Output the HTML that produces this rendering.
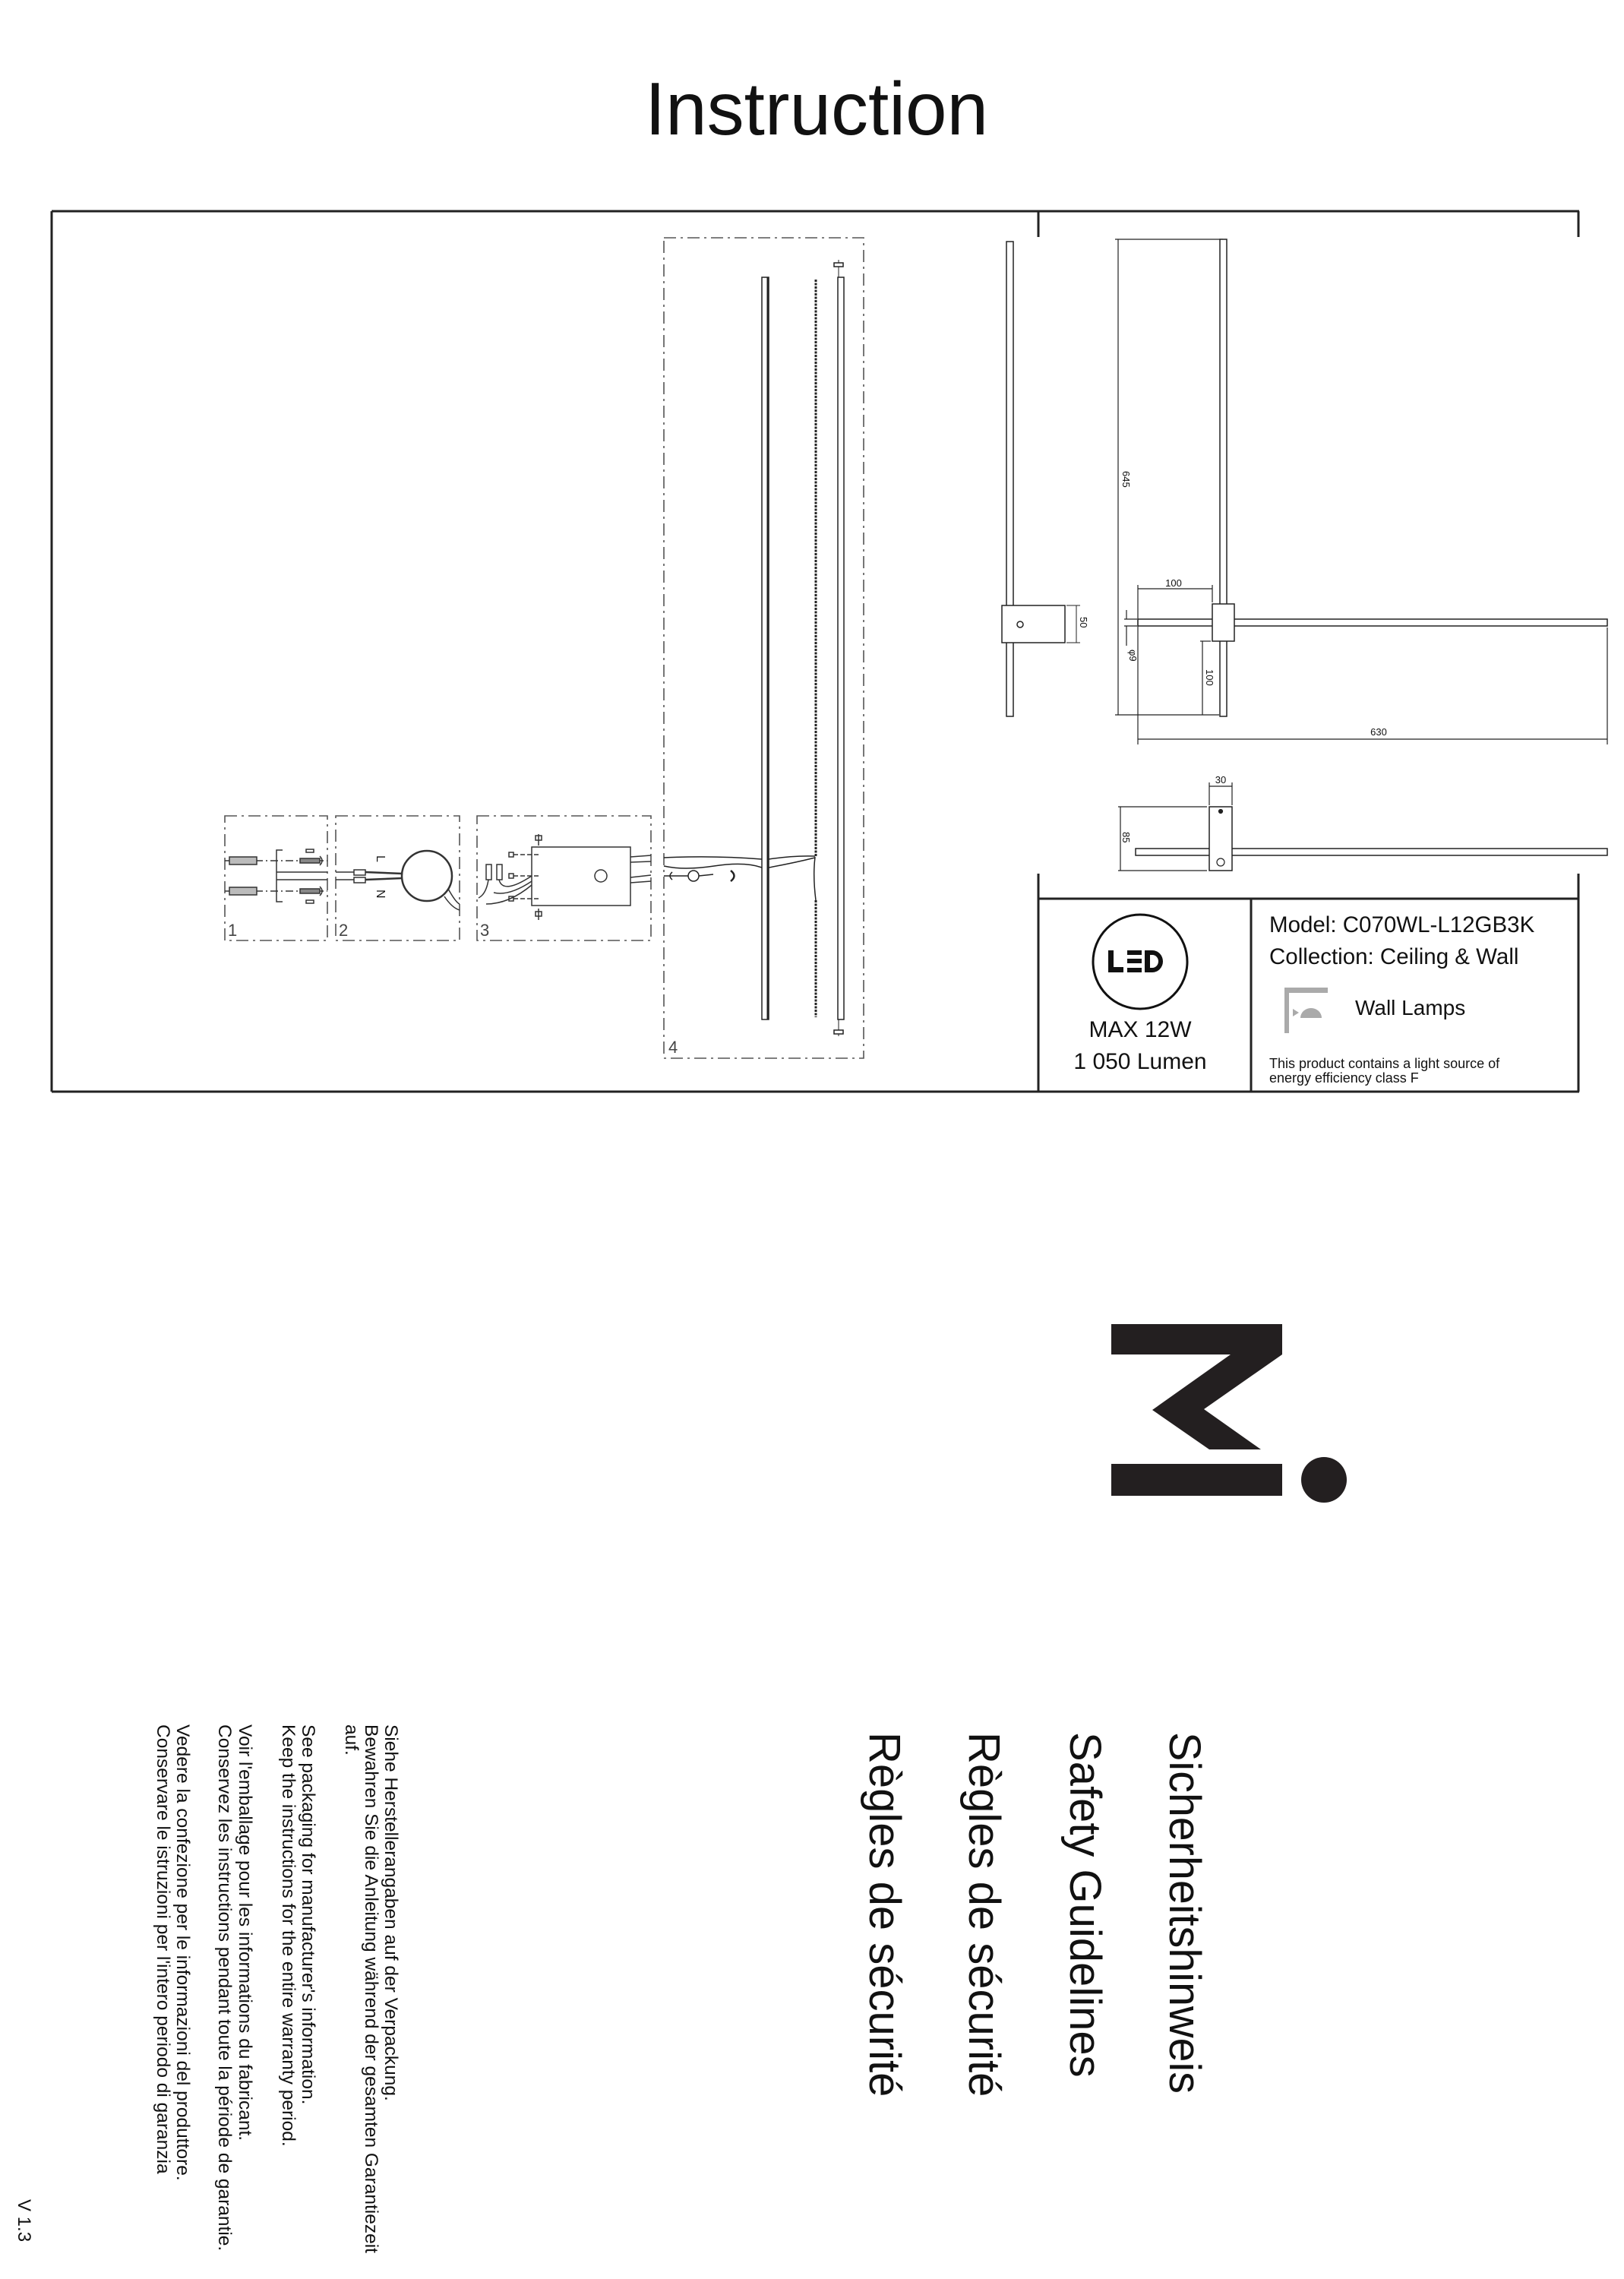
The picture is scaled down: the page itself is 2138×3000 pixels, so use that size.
<!DOCTYPE html>
<html><head><meta charset="utf-8"><style>
html,body{margin:0;padding:0;background:#fff;}
svg{display:block;}
text{font-family:"Liberation Sans",Arial,sans-serif;fill:#111;}
</style></head><body>
<svg width="2138" height="3000" viewBox="0 0 2138 3000" xmlns="http://www.w3.org/2000/svg">
<rect width="2138" height="3000" fill="#fff"/>
<text x="1075" y="177" font-size="98" text-anchor="middle">Instruction</text>

<g stroke="#222" stroke-width="3" fill="none">
<line x1="68" y1="278" x2="2079" y2="278"/>
<line x1="68" y1="278" x2="68" y2="1437"/>
<line x1="68" y1="1437" x2="2079" y2="1437"/>
<line x1="2078" y1="278" x2="2078" y2="312"/>
<line x1="2078" y1="1150" x2="2078" y2="1437"/>
<line x1="1367" y1="278" x2="1367" y2="312"/>
<line x1="1367" y1="1150" x2="1367" y2="1437"/>
<line x1="1367" y1="1183" x2="2078" y2="1183"/>
<line x1="1647" y1="1183" x2="1647" y2="1437"/>
</g>

<g stroke="#555" stroke-width="1.6" fill="none" stroke-dasharray="16 6 3 6">
<rect x="296" y="1074" width="135" height="164"/>
<rect x="442" y="1074" width="163" height="164"/>
<rect x="628" y="1074" width="229" height="164"/>
<rect x="874" y="313" width="263" height="1080"/>
</g>
<g font-size="22" fill="#444">
<text x="300" y="1232" style="fill:#444">1</text>
<text x="446" y="1232" style="fill:#444">2</text>
<text x="632" y="1232" style="fill:#444">3</text>
<text x="880" y="1386" style="fill:#444">4</text>
</g>

<g stroke="#333" stroke-width="1.5" fill="none">
<line x1="296" y1="1133" x2="431" y2="1133" stroke-dasharray="10 4 2 4"/>
<line x1="296" y1="1173" x2="431" y2="1173" stroke-dasharray="10 4 2 4"/>
<rect x="302" y="1128" width="36" height="10" fill="#bbb"/>
<rect x="302" y="1168" width="36" height="10" fill="#bbb"/>
<path d="M372 1119 H364 V1187 H372"/>
<line x1="364" y1="1148" x2="431" y2="1148"/><line x1="364" y1="1158" x2="431" y2="1158"/>
<rect x="395" y="1130" width="26" height="6" fill="#888"/>
<rect x="395" y="1170" width="26" height="6" fill="#888"/>
<path d="M421 1127 q6 6 0 12"/><path d="M421 1167 q6 6 0 12"/>
<rect x="403" y="1118" width="10" height="4"/><rect x="403" y="1185" width="10" height="4"/>
</g>
<g stroke="#333" stroke-width="1.5" fill="none">
<line x1="442" y1="1148" x2="466" y2="1148"/><line x1="442" y1="1158" x2="466" y2="1158"/>
<rect x="466" y="1145" width="15" height="7"/><rect x="466" y="1155" width="15" height="7"/>
<line x1="481" y1="1148" x2="530" y2="1150" stroke-width="2.5"/><line x1="481" y1="1158" x2="530" y2="1156" stroke-width="2.5"/>
<circle cx="562" cy="1153" r="33" stroke-width="2.5"/>
<path d="M590 1170 q10 18 15 20"/><path d="M585 1180 q10 15 20 18"/>
</g>
<text x="498" y="1140" font-size="16" transform="rotate(90 504 1132)">L</text>
<text x="498" y="1185" font-size="16" transform="rotate(90 504 1177)">N</text>
<g stroke="#333" stroke-width="1.5" fill="none">
<rect x="700" y="1115" width="130" height="77"/>
<circle cx="791" cy="1153" r="8"/>
<line x1="709" y1="1098" x2="709" y2="1113"/><rect x="705" y="1100" width="8" height="6"/>
<line x1="709" y1="1196" x2="709" y2="1211"/><rect x="705" y="1200" width="8" height="6"/>
<rect x="670" y="1122" width="6" height="6"/><rect x="670" y="1150" width="6" height="6"/><rect x="670" y="1180" width="6" height="6"/>
<line x1="676" y1="1125" x2="710" y2="1125" stroke-dasharray="6 3"/>
<line x1="676" y1="1153" x2="710" y2="1153" stroke-dasharray="6 3"/>
<line x1="676" y1="1183" x2="710" y2="1183" stroke-dasharray="6 3"/>
<rect x="640" y="1138" width="7" height="20"/><rect x="654" y="1138" width="7" height="20"/>
<path d="M630 1182 q10 -5 13 -24"/><path d="M657 1158 q5 20 43 -5"/><path d="M650 1175 q20 5 50 -15"/><path d="M640 1190 q30 0 60 -25"/>
<line x1="830" y1="1128" x2="857" y2="1126"/><line x1="830" y1="1135" x2="857" y2="1134"/>
<line x1="830" y1="1155" x2="857" y2="1152"/><line x1="830" y1="1162" x2="857" y2="1160"/>
</g>

<g stroke="#222" stroke-width="1.5" fill="#fff">
<rect x="1003" y="365" width="9" height="977"/>
<line x1="1011" y1="365" x2="1011" y2="1342" stroke-width="3"/>
<rect x="1103" y="365" width="8" height="977"/>
<line x1="1074" y1="368" x2="1074" y2="1128" stroke-width="3" stroke-dasharray="3 1.5"/>
<line x1="1074" y1="1185" x2="1074" y2="1339" stroke-width="3" stroke-dasharray="3 1.5"/>
<path d="M1073 1128 q-3 25 1 57" fill="none"/>
<path d="M874 1129 Q940 1126 1003 1131 M1012 1131 Q1045 1126 1073 1127" fill="none"/>
<path d="M874 1140 Q900 1146 940 1140 T1003 1142 M1012 1142 Q1045 1136 1073 1129" fill="none"/>
<path d="M885 1148 q-6 5 0 10" fill="none"/>
<line x1="874" y1="1153" x2="906" y2="1153"/>
<circle cx="913" cy="1153" r="7"/>
<line x1="920" y1="1153" x2="939" y2="1151"/>
<path d="M962 1146 q9 7 0 14" fill="none" stroke-width="2.5"/>
<line x1="1104" y1="342" x2="1104" y2="365" stroke-width="1"/>
<rect x="1098" y="346" width="12" height="5"/>
<line x1="1104" y1="1342" x2="1104" y2="1364" stroke-width="1"/>
<rect x="1098" y="1356" width="12" height="5"/>
</g>

<g stroke="#222" stroke-width="1.5" fill="#fff">
<rect x="1325" y="318" width="9" height="625"/>
<rect x="1319" y="797" width="83" height="49"/>
<circle cx="1343" cy="822" r="4" fill="none"/>
<line x1="1404" y1="797" x2="1422" y2="797" stroke-width="1"/>
<line x1="1404" y1="846" x2="1422" y2="846" stroke-width="1"/>
<line x1="1417" y1="797" x2="1417" y2="846" stroke-width="1"/>
</g>
<text x="1422" y="812" font-size="13" transform="rotate(90 1422 812)">50</text>

<g stroke="#222" stroke-width="1.2" fill="none">
<line x1="1472" y1="315" x2="1472" y2="941"/>
<line x1="1468" y1="315" x2="1610" y2="315"/>
<line x1="1468" y1="941" x2="1605" y2="941"/>
<rect x="1606" y="315" width="9" height="628" fill="#fff" stroke-width="1.5"/>
<rect x="1498" y="815" width="618" height="9" fill="#fff" stroke-width="1.5"/>
<rect x="1596" y="795" width="29" height="49" fill="#fff" stroke-width="1.5"/>
<line x1="1498" y1="770" x2="1498" y2="980"/>
<line x1="1596" y1="770" x2="1596" y2="793"/>
<line x1="1498" y1="775" x2="1596" y2="775"/>
<line x1="1480" y1="815" x2="1497" y2="815"/>
<line x1="1480" y1="824" x2="1497" y2="824"/>
<line x1="1483" y1="803" x2="1483" y2="815"/>
<line x1="1483" y1="824" x2="1483" y2="850"/>
<line x1="1583" y1="844" x2="1583" y2="941"/>
<line x1="1580" y1="844" x2="1594" y2="844"/>
<line x1="2116" y1="826" x2="2116" y2="980"/>
<line x1="1498" y1="973" x2="2116" y2="973"/>
</g>
<g font-size="13">
<text x="1545" y="772" text-anchor="middle">100</text>
<text x="1815" y="968" text-anchor="middle">630</text>
<text x="1478" y="620" transform="rotate(90 1478 620)">645</text>
<text x="1487" y="855" transform="rotate(90 1487 855)">φ9</text>
<text x="1588" y="881" transform="rotate(90 1588 881)">100</text>
</g>

<g stroke="#222" stroke-width="1.2" fill="none">
<rect x="1495" y="1117" width="621" height="9" fill="#fff" stroke-width="1.5"/>
<rect x="1592" y="1062" width="30" height="84" fill="#fff" stroke-width="1.5"/>
<circle cx="1607" cy="1068" r="2.5" fill="#222"/>
<circle cx="1607" cy="1135" r="5"/>
<line x1="1472" y1="1062" x2="1589" y2="1062"/>
<line x1="1472" y1="1146" x2="1589" y2="1146"/>
<line x1="1475" y1="1062" x2="1475" y2="1146"/>
<line x1="1592" y1="1030" x2="1592" y2="1060"/>
<line x1="1622" y1="1030" x2="1622" y2="1060"/>
<line x1="1592" y1="1035" x2="1622" y2="1035"/>
</g>
<text x="1607" y="1031" font-size="13" text-anchor="middle">30</text>
<text x="1478" y="1095" font-size="13" transform="rotate(90 1478 1095)">85</text>

<ellipse cx="1501" cy="1266" rx="62" ry="62" fill="none" stroke="#111" stroke-width="3"/>
<g fill="#111">
<rect x="1459" y="1251" width="7" height="29"/><rect x="1459" y="1273" width="20" height="7"/>
<rect x="1484" y="1251" width="19" height="6"/><rect x="1484" y="1262" width="19" height="6"/><rect x="1484" y="1274" width="19" height="6"/>
<path d="M1507 1251 h10 a14 14.5 0 0 1 0 29 h-10 z M1514 1257 v17 h3 a8 8.5 0 0 0 0 -17 z" fill-rule="evenodd"/>
</g>
<text x="1501" y="1365" font-size="30" text-anchor="middle">MAX 12W</text>
<text x="1501" y="1407" font-size="30" text-anchor="middle">1 050 Lumen</text>
<text x="1671" y="1227" font-size="29.5">Model: C070WL-L12GB3K</text>
<text x="1671" y="1269" font-size="29.5">Collection: Ceiling &amp; Wall</text>
<g fill="#aaa">
<rect x="1691" y="1300" width="6" height="60"/><rect x="1691" y="1300" width="57" height="7"/>
<path d="M1712 1340 a14 13 0 0 1 28 0 z"/>
<path d="M1702 1328 l8 5 l-8 5 z"/>
</g>
<text x="1784" y="1336" font-size="28">Wall Lamps</text>
<text x="1671" y="1406" font-size="18">This product contains a light source of</text>
<text x="1671" y="1425" font-size="18">energy efficiency class F</text>

<g fill="#231f20">
<path d="M1463 1743 H1688 V1783 L1585 1855 L1660 1908 H1592 L1517 1856 L1620 1783 H1463 Z"/>
<rect x="1463" y="1927" width="225" height="42"/>
<circle cx="1743" cy="1948" r="30"/>
</g>

<g font-size="58">
<text x="1540" y="2280" transform="rotate(90 1540 2280)" textLength="476" lengthAdjust="spacingAndGlyphs">Sicherheitshinweis</text>
<text x="1409" y="2280" transform="rotate(90 1409 2280)">Safety Guidelines</text>
<text x="1276" y="2280" transform="rotate(90 1276 2280)">Règles de sécurité</text>
<text x="1145" y="2280" transform="rotate(90 1145 2280)">Règles de sécurité</text>
</g>
<g font-size="24.5">
<text x="507" y="2270" transform="rotate(90 507 2270)">Siehe Herstellerangaben auf der Verpackung.</text>
<text x="481" y="2270" transform="rotate(90 481 2270)">Bewahren Sie die Anleitung während der gesamten Garantiezeit</text>
<text x="455" y="2270" transform="rotate(90 455 2270)">auf.</text>
<text x="398" y="2270" transform="rotate(90 398 2270)">See packaging for manufacturer's information.</text>
<text x="372" y="2270" transform="rotate(90 372 2270)">Keep the instructions for the entire warranty period.</text>
<text x="315" y="2270" transform="rotate(90 315 2270)">Voir l'emballage pour les informations du fabricant.</text>
<text x="288" y="2270" transform="rotate(90 288 2270)">Conservez les instructions pendant toute la période de garantie.</text>
<text x="233" y="2270" transform="rotate(90 233 2270)">Vedere la confezione per le informazioni del produttore.</text>
<text x="207" y="2270" transform="rotate(90 207 2270)">Conservare le istruzioni per l'intero periodo di garanzia</text>
</g>
<text x="24" y="2895" font-size="24" transform="rotate(90 24 2895)">V 1.3</text>
</svg>
</body></html>
